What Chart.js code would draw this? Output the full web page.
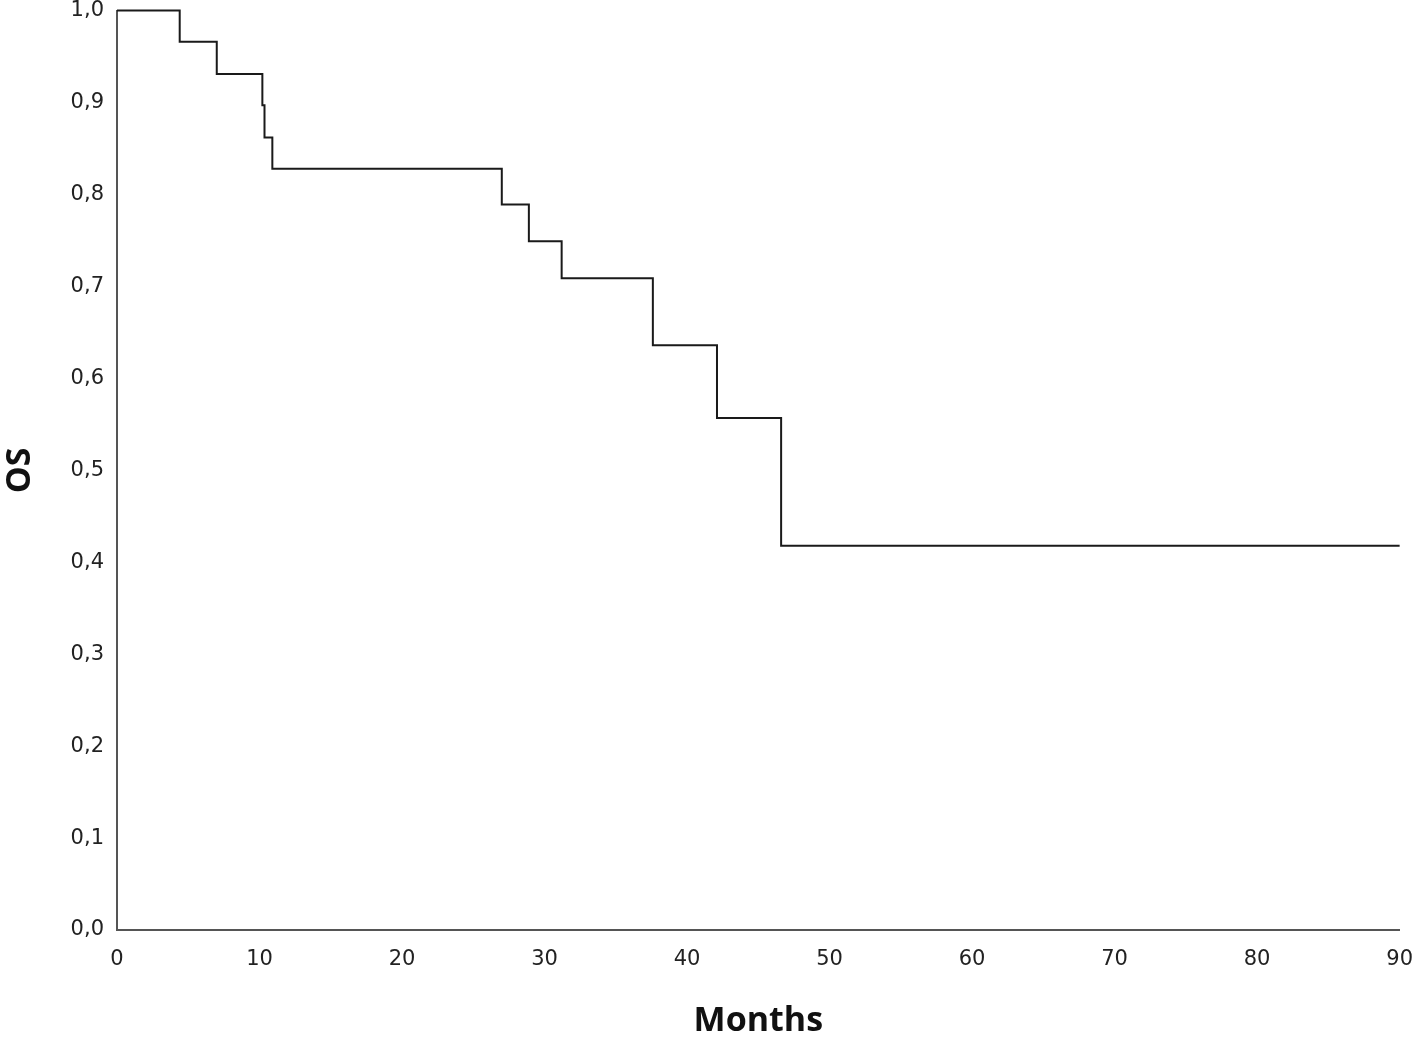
<!DOCTYPE html>
<html>
<head>
<meta charset="utf-8">
<script src="https://cdn.jsdelivr.net/npm/chart.js@4/dist/chart.umd.min.js"></script>
<style>
html,body{margin:0;padding:0;background:#fff;}
#wrap{width:1418px;height:1038px;position:relative;overflow:hidden;}
#c{position:absolute;left:0;top:-15px;}
</style>
</head>
<body>
<div id="wrap"><canvas id="c" width="1430" height="1053"></canvas></div>
<script>
// Kaplan-Meier step data (event times in months, survival after event)
const months = [0, 4.4, 7.0, 10.2, 10.35, 10.9, 27.0, 28.9, 31.2, 37.6, 42.1, 46.6, 90];
const survival = [1.0, 0.966, 0.931, 0.897, 0.862, 0.828, 0.789, 0.749, 0.709, 0.636, 0.557, 0.418, 0.418];
const xTicks = [0, 10, 20, 30, 40, 50, 60, 70, 80, 90];
const yTicks = [0, 0.1, 0.2, 0.3, 0.4, 0.5, 0.6, 0.7, 0.8, 0.9, 1.0];

const points = months.map((m, i) => ({x: m, y: survival[i]}));
const fontFam = "'DejaVu Sans', sans-serif";

new Chart(document.getElementById('c'), {
  type: 'scatter',
  data: {
    datasets: [{
      data: points,
      showLine: true,
      stepped: 'before',
      borderColor: '#1a1a1a',
      borderWidth: 2,
      pointRadius: 0,
      fill: false,
      clip: false
    }]
  },
  options: {
    responsive: false,
    animation: false,
    plugins: {legend: {display: false}, tooltip: {enabled: false}},
    layout: {padding: {top: 8, right: 19, bottom: 0, left: 0}},
    scales: {
      x: {
        type: 'linear',
        min: 0, max: 90,
        afterBuildTicks: s => { s.ticks = xTicks.map(v => ({value: v})); },
        afterFit: s => { s.height = 108; },
        grid: {display: false, drawTicks: false, tickLength: 0},
        border: {display: true, color: '#555', width: 2},
        ticks: {
          padding: 17,
          color: '#222',
          maxRotation: 0,
          font: {family: fontFam, size: 21},
          callback: v => String(v)
        },
        title: {
          display: true,
          text: 'Months',
          color: '#111',
          padding: {top: 0, bottom: 0},
          font: {family: "'Open Sans', sans-serif", size: 34, weight: 'bold', lineHeight: 1.0}
        }
      },
      y: {
        type: 'linear',
        min: 0, max: 1,
        afterBuildTicks: s => { s.ticks = yTicks.map(v => ({value: v})); },
        afterFit: s => { s.width = 117; },
        grid: {display: false, drawTicks: false, tickLength: 0},
        border: {display: true, color: '#555', width: 2},
        ticks: {
          padding: 13,
          color: '#222',
          font: {family: fontFam, size: 21},
          callback: v => v.toFixed(1).replace('.', ',')
        },
        title: {
          display: true,
          text: 'OS',
          color: '#111',
          padding: {top: 0, bottom: 0},
          font: {family: "'Open Sans', sans-serif", size: 34, weight: 'bold'}
        }
      }
    }
  }
});
</script>
</body>
</html>
